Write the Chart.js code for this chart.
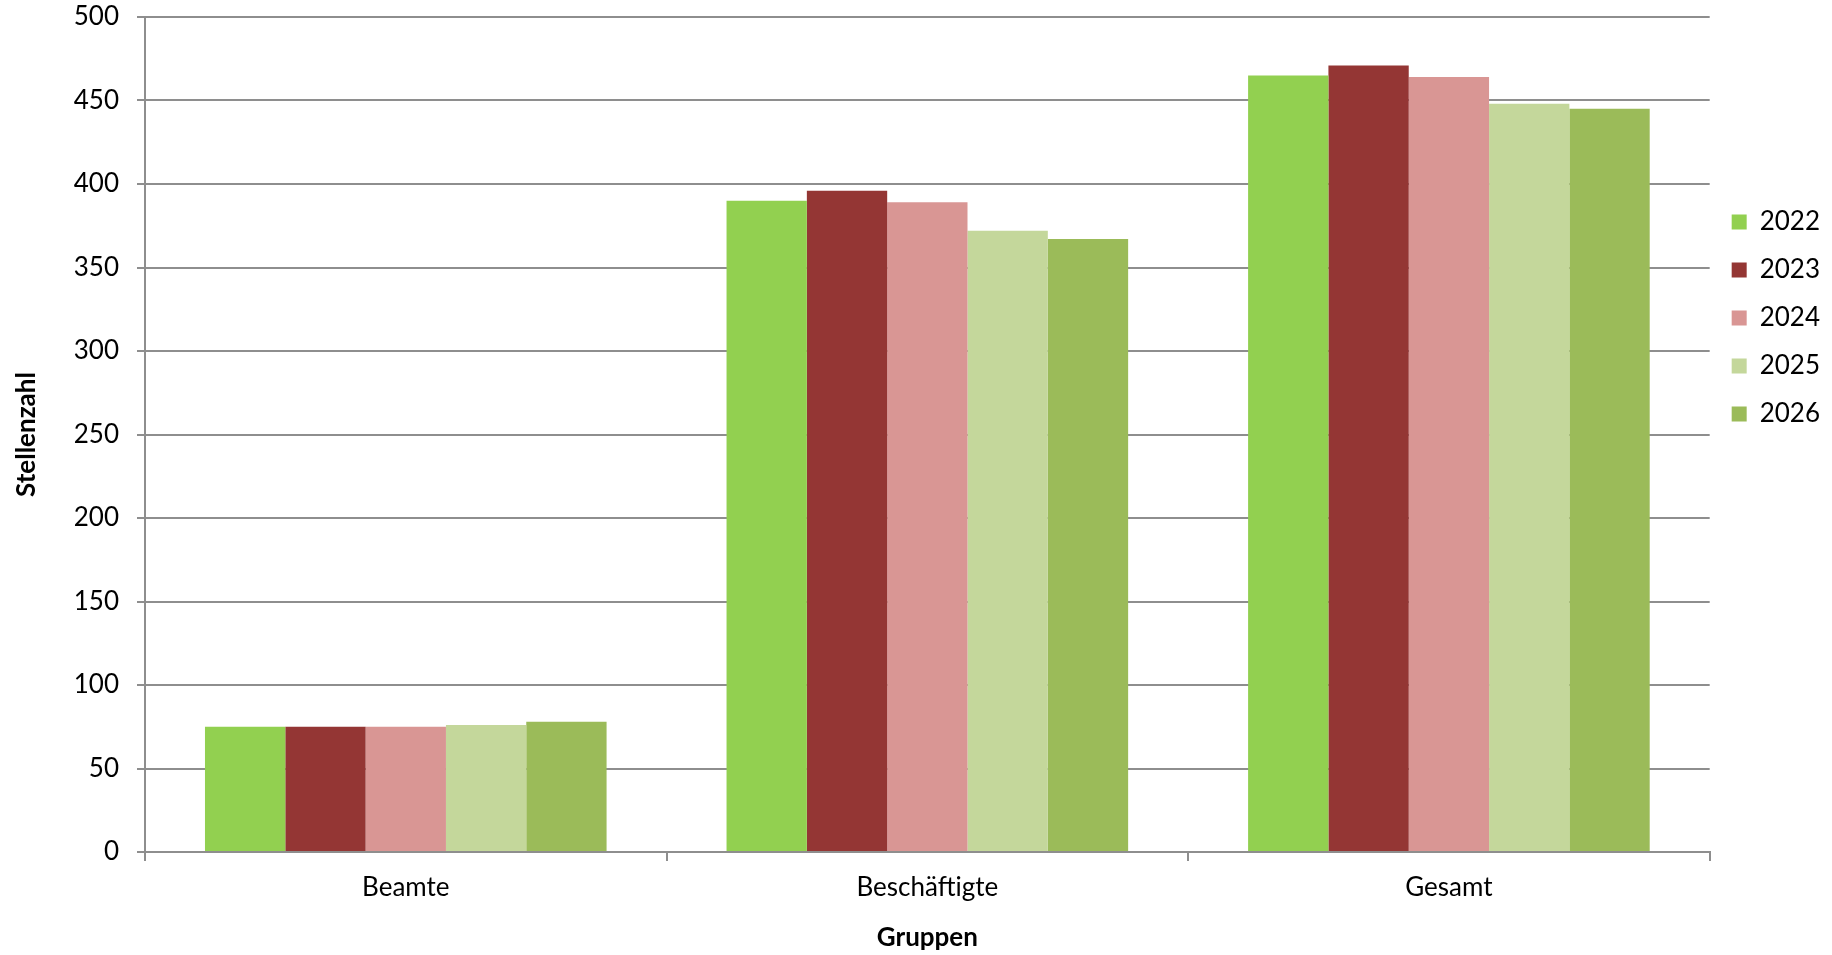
<!DOCTYPE html>
<html>
<head>
<meta charset="utf-8">
<script src="https://cdn.jsdelivr.net/npm/chart.js@4.4.1/dist/chart.umd.min.js"></script>
<style>
  html, body { margin: 0; padding: 0; background: #fff; }
  #wrap { width: 1832px; height: 955px; }
</style>
</head>
<body>
<div id="wrap"><canvas id="stellen_canvas"></canvas></div>
<script>
// Stellenzahl je Gruppe und Jahr
var groups = ["Beamte", "Beschäftigte", "Gesamt"];
var years = ["2022", "2023", "2024", "2025", "2026"];
var v2022 = [75, 390, 465];
var v2023 = [75, 396, 471];
var v2024 = [75, 389, 464];
var v2025 = [76, 372, 448];
var v2026 = [78, 367, 445];
var yTicks = [0, 50, 100, 150, 200, 250, 300, 350, 400, 450, 500];

var colors = ["#92D050", "#943634", "#D99694", "#C4D79B", "#9BBB59"];
var series = [v2022, v2023, v2024, v2025, v2026];
var gray = "#8e8e8e";
var fontName = "Lato, 'Open Sans', sans-serif";

var datasets = [];
for (var i = 0; i < years.length; i++) {
	datasets.push({
		label: years[i],
		data: series[i],
		backgroundColor: colors[i],
		borderWidth: 0,
		barPercentage: 1.0,
		categoryPercentage: 0.77
	});
}

var ctx = document.getElementById('stellen_canvas').getContext('2d');
var chart = new Chart(ctx, {
	type: 'bar',
	data: { labels: groups, datasets: datasets },
	options: {
		responsive: true,
		maintainAspectRatio: false,
		animation: false,
		layout: { padding: { top: 0, right: 2, left: 0, bottom: 0 } },
		plugins: {
			tooltip: { enabled: false },
			legend: {
				position: 'right',
				align: 'start',
				title: { display: true, text: '', font: { size: 10, lineHeight: 1 }, padding: { top: 177, bottom: 0 } },
				labels: {
					boxWidth: 15,
					boxHeight: 15,
					padding: 22,
					color: '#000',
					font: { family: fontName, size: 26 }
				}
			}
		},
		scales: {
			x: {
				afterFit: function (scale) { scale.height = 103; },
				grid: { display: true, drawOnChartArea: false, drawTicks: true, tickLength: 9, color: gray, lineWidth: 2 },
				border: { display: true, color: gray, width: 2 },
				ticks: { color: '#000', padding: 11, font: { family: fontName, size: 26 } },
				title: { display: true, text: 'Gruppen', color: '#000', font: { family: fontName, size: 26, weight: 'bold' }, padding: { top: 4, bottom: 1.4 } }
			},
			y: {
				min: 0,
				max: 500,
				afterFit: function (scale) {
					scale.width = 145;
					scale.paddingTop = 17; // top gridline sits just under the edge
				},
				afterBuildTicks: function (scale) {
					scale.ticks = yTicks.map(function (v) { return { value: v }; });
				},
				grid: { color: gray, lineWidth: 2, tickLength: 8 },
				border: { display: true, color: gray, width: 2 },
				ticks: { color: '#000', padding: 18, font: { family: fontName, size: 26 } },
				title: { display: true, text: 'Stellenzahl', color: '#000', font: { family: fontName, size: 26, weight: 'bold' }, padding: { top: 11.4, bottom: 4 } }
			}
		}
	}
});
</script>
</body>
</html>
